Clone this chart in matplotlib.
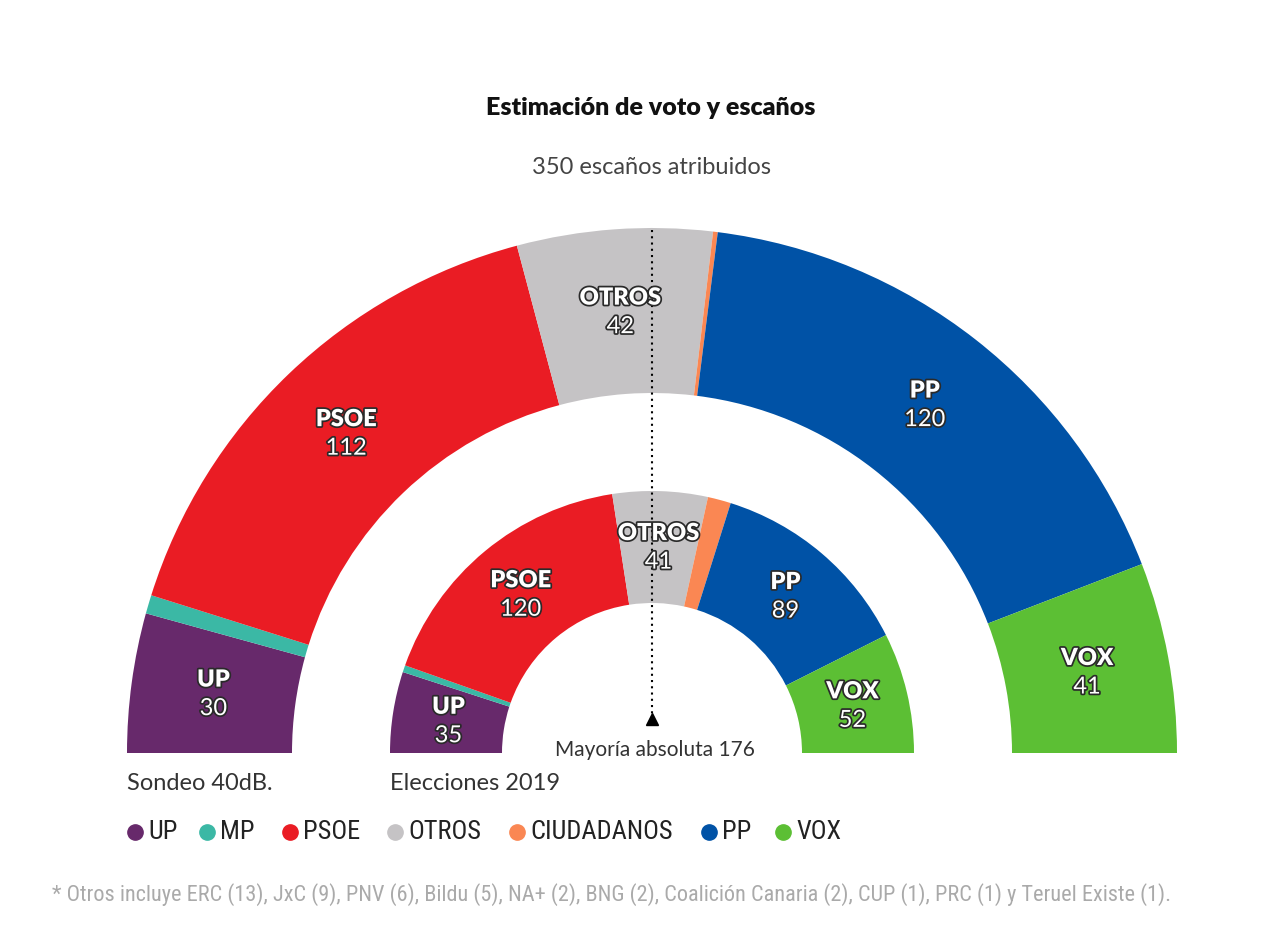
import matplotlib
matplotlib.use("Agg")
import matplotlib.pyplot as plt
from matplotlib.patches import Wedge
import matplotlib.patheffects as pe
from matplotlib import font_manager
import numpy as np

parties = ["UP", "MP", "PSOE", "OTROS", "CIUDADANOS", "PP", "VOX"]
colors = ["#67296b", "#3bb8a5", "#ea1c24", "#c5c3c5", "#fa8753", "#0052a6", "#5cbf34"]
sondeo_seats = [30, 4, 112, 42, 1, 120, 41]
elecciones_seats = [35, 3, 120, 41, 10, 89, 52]
labelled = ["UP", "PSOE", "OTROS", "PP", "VOX"]
total_seats = 350
title = "Estimación de voto y escaños"
subtitle = "350 escaños atribuidos"
footnote = ("* Otros incluye ERC (13), JxC (9), PNV (6), Bildu (5), NA+ (2), BNG (2), "
            "Coalición Canaria (2), CUP (1), PRC (1) y Teruel Existe (1).")

names = {f.name for f in font_manager.fontManager.ttflist}

def pick(*cands):
    for c in cands:
        if c in names:
            return c
    return "DejaVu Sans"

narrow = pick("Roboto Condensed", "Archivo Narrow", "PT Sans Narrow", "Liberation Sans Narrow")
main = pick("Lato")

fig = plt.figure(figsize=(12.8, 9.46), dpi=100)
ax = fig.add_axes([0, 0, 1, 1])
ax.set_xlim(0, 1280)
ax.set_ylim(0, 946)
ax.axis("off")

H = 946
cx, cy = 652, H - 753

def ring(seats, r_out, r_in, fs):
    start = 180.0
    for p, c, s in zip(parties, colors, seats):
        end = start - s * 180.0 / total_seats
        ax.add_patch(Wedge((cx, cy), r_out, end, start, width=r_out - r_in,
                           facecolor=c, edgecolor="none"))
        if p in labelled:
            mid = np.deg2rad((start + end) / 2)
            rm = (r_out + r_in) / 2
            x = cx + rm * np.cos(mid)
            y = cy + rm * np.sin(mid)
            stroke = [pe.withStroke(linewidth=2.5, foreground="#2a2a2a")]
            ax.text(x, y + 14, p, ha="center", va="center", color="white",
                    fontsize=fs, fontweight="heavy", family=main, path_effects=stroke)
            ax.text(x, y - 15, str(s), ha="center", va="center", color="white",
                    fontsize=fs, family=main, path_effects=stroke)
        start = end

ring(sondeo_seats, 525, 360, 17)
ring(elecciones_seats, 262, 150, 17)

# majority line
ax.plot([cx, cx], [H - 230, H - 715], color="black", linestyle=(0, (1, 2)), lw=1.5)
ax.plot([cx], [H - 719], marker="^", color="black", markersize=8)
ax.text(cx + 3, H - 750, "Mayoría absoluta 176", ha="center", va="center",
        fontsize=15, color="#333333", family=main)

# titles
ax.text(651, H - 108, title, ha="center", va="center",
        fontsize=18, fontweight="heavy", color="#111111", family=main)
ax.text(651, H - 168, subtitle, ha="center", va="center",
        fontsize=17, color="#444444", family=main)

ax.text(127, H - 783, "Sondeo 40dB.", ha="left", va="center", fontsize=17,
        color="#333333", family=main)
ax.text(390, H - 783, "Elecciones 2019", ha="left", va="center", fontsize=17,
        color="#333333", family=main)

# legend
leg_x = [135, 207, 290, 395, 517, 709, 783]
for x, p, c in zip(leg_x, parties, colors):
    ax.plot([x], [H - 832], marker="o", color=c, markersize=11)
    ax.text(x + 13, H - 832, p, ha="left", va="center", fontsize=19,
            color="#222222", family=narrow)

ax.text(52, H - 895, footnote,
        ha="left", va="center", fontsize=16, color="#aaaaaa", family=narrow)

fig.savefig("out.png", dpi=100, facecolor="white")
